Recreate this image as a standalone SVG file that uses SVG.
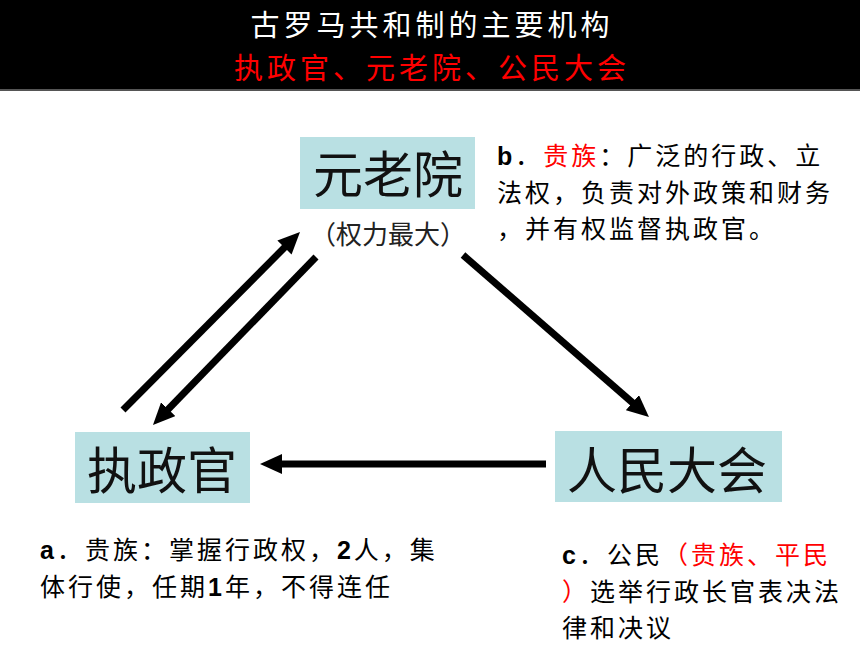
<svg xmlns="http://www.w3.org/2000/svg" width="860" height="645" viewBox="0 0 860 645">
<style>
.cjk{font-family:"Noto Sans CJK SC","Liberation Sans",sans-serif}
.title{font-size:29px;text-anchor:middle;letter-spacing:4px}
.box{fill:#b9e0e3}
.node{font-size:50px;fill:#111;text-anchor:middle}
.note{font-size:25px;letter-spacing:3px;fill:#000}
.lat{font-family:"Liberation Sans",sans-serif;font-weight:bold;font-size:25px;letter-spacing:3px;fill:#000}
.red{fill:#ff0000}
.conn{stroke:#000;stroke-width:7;fill:none;marker-end:url(#ah)}
</style>
<defs>
<marker id="ah" markerUnits="userSpaceOnUse" markerWidth="22" markerHeight="20" refX="6" refY="10" orient="auto" viewBox="0 0 22 20">
<path d="M0,0 L22,10 L0,20 z" fill="#000"/>
</marker>
</defs>
<rect width="860" height="645" fill="#fff"/>
<g id="header">
<rect x="0" y="0" width="860" height="89" fill="#000"/>
<rect x="0" y="89" width="860" height="2" fill="#555"/>
<text class="cjk title" x="432" y="36" fill="#fff">古罗马共和制的主要机构</text>
<text class="cjk title" x="432" y="79" fill="#ff0000">执政官、元老院、公民大会</text>
</g>
<g id="connectors">
<line class="conn" x1="123" y1="410" x2="288.7" y2="243.3"/>
<line class="conn" x1="316" y1="257" x2="164.1" y2="413.5"/>
<line class="conn" x1="463" y1="255" x2="636.9" y2="406.5"/>
<line class="conn" x1="546" y1="464" x2="276" y2="464"/>
</g>
<g id="senate">
<rect class="box" x="300" y="137" width="175" height="72"/>
<text class="cjk node" x="388" y="193">元老院</text>
<text class="cjk" x="388" y="244" font-size="26" fill="#222" text-anchor="middle">（权力最大）</text>
</g>
<g id="consul">
<rect class="box" x="75" y="432" width="175" height="71"/>
<text class="cjk node" x="162" y="489">执政官</text>
</g>
<g id="assembly">
<rect class="box" x="555" y="431" width="227" height="71"/>
<text class="cjk node" x="667" y="489">人民大会</text>
</g>
<g id="note-b">
<text class="lat" x="497" y="165">b</text>
<text class="cjk note" x="515.3" y="165">．</text>
<text class="cjk note red" x="543.3" y="165">贵族</text>
<text class="cjk note" x="599.3" y="165">：广泛的行政、立</text>
<text class="cjk note" x="497" y="201.5">法权，负责对外政策和财务</text>
<text class="cjk note" x="497" y="238">，并有权监督执政官。</text>
</g>
<g id="note-a">
<text class="lat" x="40" y="559">a</text>
<text class="cjk note" x="56.9" y="559">．贵族：掌握行政权，</text>
<text class="lat" x="336.9" y="559">2</text>
<text class="cjk note" x="353.8" y="559">人，集</text>
<text class="cjk note" x="40" y="595.5">体行使，任期</text>
<text class="lat" x="208" y="595.5">1</text>
<text class="cjk note" x="224.9" y="595.5">年，不得连任</text>
</g>
<g id="note-c">
<text class="lat" x="562" y="564">c</text>
<text class="cjk note" x="578.9" y="564">．公民</text>
<text class="cjk note red" x="662.9" y="564">（贵族、平民</text>
<text class="cjk note red" x="562" y="600.5">）</text>
<text class="cjk note" x="590" y="600.5">选举行政长官表决法</text>
<text class="cjk note" x="562" y="637">律和决议</text>
</g>
</svg>
